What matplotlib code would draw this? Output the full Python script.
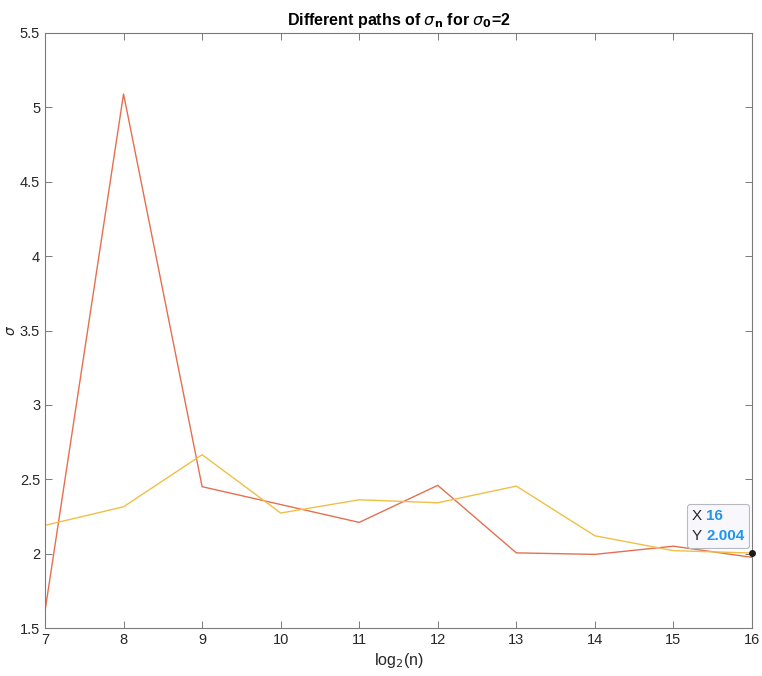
import matplotlib
matplotlib.use("Agg")
import matplotlib.pyplot as plt
from matplotlib.offsetbox import TextArea, HPacker, VPacker, AnnotationBbox

plt.rcParams['font.family'] = ['Liberation Sans', 'DejaVu Sans']
plt.rcParams['mathtext.fontset'] = 'dejavusans'

x = [7, 8, 9, 10, 11, 12, 13, 14, 15, 16]
path_red = [1.614, 5.09, 2.45, 2.33, 2.21, 2.459, 2.005, 1.995, 2.05, 1.975]
path_yellow = [2.19, 2.315, 2.665, 2.273, 2.362, 2.342, 2.454, 2.12, 2.02, 2.004]
xticks = [7, 8, 9, 10, 11, 12, 13, 14, 15, 16]
yticks = [1.5, 2, 2.5, 3, 3.5, 4, 4.5, 5, 5.5]
tip_x, tip_y = 16, 2.004

fig = plt.figure(figsize=(7.62, 6.76), dpi=100)
ax = fig.add_axes([45/762, 48/676, 707/762, 595/676])

ax.plot(x, path_red, color='#E5704F', lw=1.0)
ax.plot(x, path_yellow, color='#EEC048', lw=1.0)
ax.plot([tip_x], [tip_y], 'o', color='#1a1a1a', ms=4, zorder=5, clip_on=False)

ax.set_xlim(7, 16)
ax.set_ylim(1.5, 5.5)
ax.set_xticks(xticks)
ax.set_yticks(yticks)
ax.set_xticklabels([str(v) for v in xticks])
ax.set_yticklabels([f"{v:g}" for v in yticks])
ax.tick_params(direction='in', top=True, right=True, labelsize=10.5,
               color='#7a7a7a', labelcolor='#262626', length=5, width=0.7)
for s in ax.spines.values():
    s.set_color('#7a7a7a')
    s.set_linewidth(0.8)

ax.set_title(r'Different paths of $\sigma_{\mathbf{n}}$ for $\sigma_{\mathbf{0}}$=2',
             fontsize=11.5, fontweight='bold', pad=6)
ax.set_xlabel(r'log$_2$(n)', fontsize=11.5, color='#262626', labelpad=3)
ax.set_ylabel(r'$\sigma$', fontsize=10, color='#262626')
ax.yaxis.set_label_coords(-0.038, 0.5)

blue = '#1E96F0'
fs = 11
row1 = HPacker(children=[TextArea('X', textprops=dict(color='#262626', fontsize=fs)),
                         TextArea('16', textprops=dict(color=blue, fontsize=fs, fontweight='bold'))],
               sep=3, align='baseline')
row2 = HPacker(children=[TextArea('Y', textprops=dict(color='#262626', fontsize=fs)),
                         TextArea('2.004', textprops=dict(color=blue, fontsize=fs, fontweight='bold'))],
               sep=3, align='baseline')
box = VPacker(children=[row1, row2], sep=4, align='left')
ab = AnnotationBbox(box, (tip_x, tip_y), xybox=(-34, 27), boxcoords='offset pixels',
                    frameon=True, pad=0.4,
                    bboxprops=dict(boxstyle='round,pad=0.35,rounding_size=0.2',
                                   fc='#F8F8FC', ec='#B8B8C0', lw=0.8),
                    annotation_clip=False)
ax.add_artist(ab)

fig.savefig('out.png', dpi=100)
